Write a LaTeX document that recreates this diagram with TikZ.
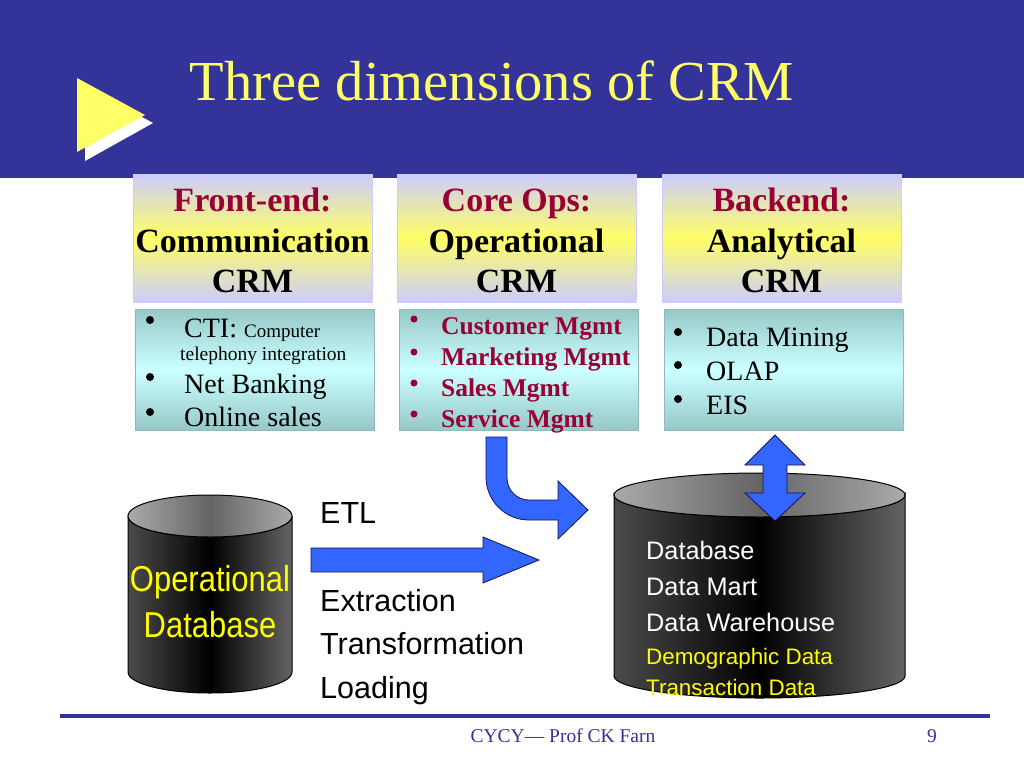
\documentclass[tikz,border=0pt]{standalone}
\usepackage{fontspec}
\setmainfont{Liberation Serif}
\setsansfont{Liberation Sans}
\definecolor{band}{RGB}{51,51,153}
\definecolor{ttl}{RGB}{255,255,102}
\definecolor{dred}{RGB}{153,0,51}
\definecolor{lav}{RGB}{204,204,255}
\definecolor{ylw}{RGB}{255,255,102}
\definecolor{tealA}{RGB}{150,200,200}
\definecolor{cyanA}{RGB}{204,255,255}
\definecolor{arrblue}{RGB}{51,102,255}
\definecolor{arrline}{RGB}{20,20,80}
\definecolor{dbyel}{RGB}{255,255,0}
\definecolor{gA}{RGB}{75,75,75}
\definecolor{gB}{RGB}{100,100,100}
\definecolor{gC}{RGB}{170,170,170}
\definecolor{gD}{RGB}{100,100,100}
\begin{document}
\begin{tikzpicture}[x=1pt,y=-1pt,
  topbox/.style={draw=lav, line width=0.6pt, top color=lav, bottom color=lav, middle color=ylw},
  lowbox/.style={draw=tealA!80!gray, line width=0.4pt, top color=tealA, bottom color=tealA, middle color=cyanA},
  hdr/.style={font=\fontsize{34}{40}\selectfont\bfseries, anchor=base, inner sep=0},
  blt/.style={circle, fill, inner sep=0, minimum size=8pt},
  itemA/.style={inner sep=0, anchor=base west, font=\fontsize{28}{32}\selectfont},
  itemB/.style={inner sep=0, anchor=base west, text=dred, font=\fontsize{25.5}{30}\selectfont\bfseries},
  sansT/.style={inner sep=0, anchor=base west, font=\sffamily\fontsize{30.5}{34}\selectfont},
  dbw/.style={inner sep=0, anchor=base west, text=white, font=\sffamily\fontsize{25.3}{30}\selectfont},
  dby/.style={inner sep=0, anchor=base west, text=dbyel, font=\sffamily\fontsize{22.4}{26}\selectfont},
  opdb/.style={inner sep=0, anchor=base, text=dbyel, font=\sffamily\fontsize{36}{40}\selectfont, xscale=0.86},
  cylbody/.style={draw=black, line width=1pt, left color=gA, right color=gD, middle color=black},
  cyltop/.style={draw=black, line width=1pt, left color=gC, right color=gC, middle color=gB},
  bigarrow/.style={fill=arrblue, draw=arrline, line width=0.8pt, line join=miter}
]
\useasboundingbox (0,0) rectangle (1024,768);
\fill[white] (0,0) rectangle (1024,768);
% header band
\fill[band] (0,0) rectangle (1024,178);
% triangle logo
\fill[white] (85,86) -- (85,161) -- (153,123) -- cycle;
\fill[ttl] (77,78) -- (77,152) -- (145,115) -- cycle;
\node[inner sep=0, anchor=base, text=ttl, font=\fontsize{56.5}{60}\selectfont] (title) at (492,100) {Three dimensions of CRM};

% top boxes
\path[topbox] (133,174) rectangle (372,302);
\path[topbox] (397,174) rectangle (636,302);
\path[topbox] (662,174) rectangle (901,302);
\node[hdr, text=dred] (h1a) at (252.5,211) {Front-end:};
\node[hdr] (h1b) at (252.5,252) {Communication};
\node[hdr] (h1c) at (252.5,292) {CRM};
\node[hdr, text=dred] (h2a) at (516.5,211) {Core Ops:};
\node[hdr] (h2b) at (516.5,252) {Operational};
\node[hdr] (h2c) at (516.5,292) {CRM};
\node[hdr, text=dred] (h3a) at (781.5,211) {Backend:};
\node[hdr] (h3b) at (781.5,252) {Analytical};
\node[hdr] (h3c) at (781.5,292) {CRM};

% lower boxes
\path[lowbox] (135,309) rectangle (374,430);
\path[lowbox] (399,309) rectangle (638,430);
\path[lowbox] (664,309) rectangle (903,430);

% box 1 items
\node[blt] (b1a) at (150,320) {};
\node[blt] (b1b) at (150,377) {};
\node[blt] (b1c) at (150,412) {};
\node[itemA] (i1a) at (184,337) {CTI: {\fontsize{19}{22}\selectfont Computer}};
\node[inner sep=0, anchor=base west, font=\fontsize{19.5}{22}\selectfont] (i1b) at (180,360) {telephony integration};
\node[itemA] (i1c) at (184,393) {Net Banking};
\node[itemA] (i1d) at (184,426) {Online sales};

% box 2 items
\node[blt, fill=dred, minimum size=7pt] (b2a) at (414,319) {};
\node[blt, fill=dred, minimum size=7pt] (b2b) at (414,352) {};
\node[blt, fill=dred, minimum size=7pt] (b2c) at (414,383) {};
\node[blt, fill=dred, minimum size=7pt] (b2d) at (414,414) {};
\node[itemB] (i2a) at (441,334) {Customer Mgmt};
\node[itemB] (i2b) at (441,365) {Marketing Mgmt};
\node[itemB] (i2c) at (441,396) {Sales Mgmt};
\node[itemB] (i2d) at (441,427) {Service Mgmt};

% box 3 items
\node[blt] (b3a) at (678,332) {};
\node[blt] (b3b) at (678,365) {};
\node[blt] (b3c) at (678,399) {};
\node[itemA] (i3a) at (706,346) {Data Mining};
\node[itemA] (i3b) at (706,380) {OLAP};
\node[itemA] (i3c) at (706,414) {EIS};

% operational database cylinder
\path[cylbody]
  (128,516) -- (128,672) arc[start angle=180, end angle=0, x radius=82, y radius=21]
  -- (292,516) arc[start angle=0, end angle=180, x radius=82, y radius=21] -- cycle;
\path[cyltop] (210,516) ellipse[x radius=82, y radius=21];
\node[opdb] (op1) at (210,591) {Operational};
\node[opdb] (op2) at (210,637) {Database};

% big data cylinder
\path[cylbody]
  (614,495) -- (614,676) arc[start angle=180, end angle=0, x radius=145.5, y radius=22]
  -- (905,495) arc[start angle=0, end angle=180, x radius=145.5, y radius=22] -- cycle;
\path[cyltop] (759.5,495) ellipse[x radius=145.5, y radius=22];
\node[dbw] (d1) at (646,559) {Database};
\node[dbw] (d2) at (646,595) {Data Mart};
\node[dbw] (d3) at (646,631) {Data Warehouse};
\node[dby] (d4) at (646,664) {Demographic Data};
\node[dby] (d5) at (646,695) {Transaction Data};

% ETL texts
\node[sansT] (etl) at (320,523) {ETL};
\node[sansT] (ex) at (320,611) {Extraction};
\node[sansT] (tr) at (320,654) {Transformation};
\node[sansT] (lo) at (320,698) {Loading};

% straight arrow
\path[bigarrow] (311,548) -- (483,548) -- (483,537) -- (539,560) -- (483,583)
  -- (483,572) -- (311,572) -- cycle;
% curved arrow
\path[bigarrow] (486,437) -- (507,437) -- (507,478)
  arc[start angle=180, end angle=90, radius=22] -- (558,500) -- (558,481)
  -- (588,510) -- (558,539) -- (558,520) -- (529,520)
  arc[start angle=90, end angle=180, radius=43] -- cycle;
% double arrow
\path[bigarrow] (775,435) -- (805,465) -- (787,465) -- (787,493) -- (805,493)
  -- (775,521) -- (745,493) -- (763,493) -- (763,465) -- (745,465) -- cycle;

% footer
\draw[band, line width=4pt] (60,716) -- (990,716);
\node[inner sep=0, anchor=base, text=band, font=\fontsize{19.5}{22}\selectfont] (foot) at (563,742) {CYCY— Prof CK Farn};
\node[inner sep=0, anchor=base, text=band, font=\fontsize{19.5}{22}\selectfont] (pg) at (932,742) {9};
\end{tikzpicture}
\end{document}
